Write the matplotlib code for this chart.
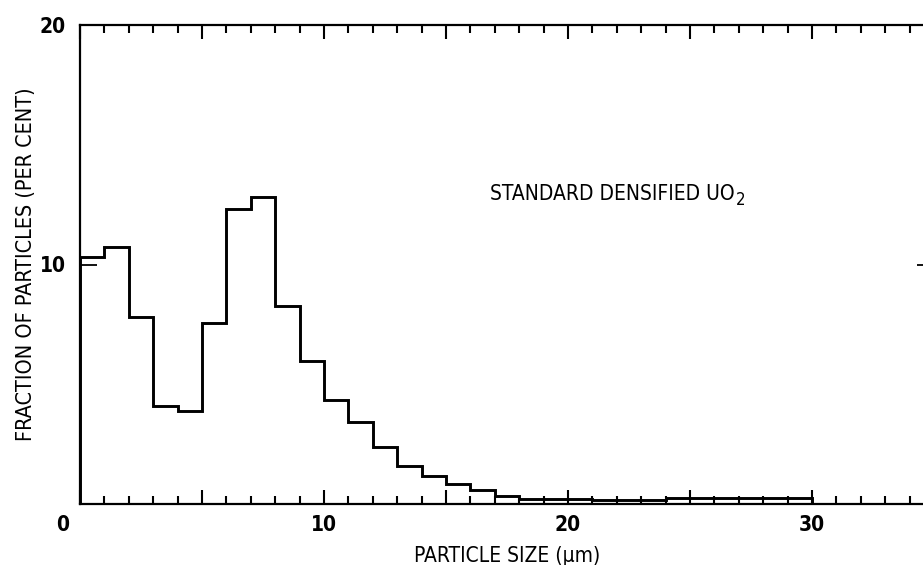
import matplotlib
matplotlib.use("Agg")
import matplotlib.pyplot as plt
import numpy as np
from matplotlib.ticker import FixedLocator, MultipleLocator, FuncFormatter
from matplotlib.transforms import ScaledTranslation

# ---- data ----
bin_edges = list(range(0, 31))
fractions = [10.3, 10.75, 7.8, 4.1, 3.9, 7.55, 12.3, 12.8, 8.25, 5.95,
             4.33, 3.41, 2.4, 1.6, 1.18, 0.82, 0.58, 0.35,
             0.2, 0.2, 0.2, 0.18, 0.18, 0.18, 0.25, 0.25, 0.25, 0.27, 0.27, 0.27]
x_tick_labels = [0, 10, 20, 30]
y_tick_labels = [10, 20]
annotation = "STANDARD DENSIFIED UO"
annotation_sub = "2"
xlabel = "PARTICLE SIZE (\u03bcm)"
ylabel = "FRACTION OF PARTICLES (PER CENT)"

plt.rcParams['font.family'] = ['DejaVu Sans']
plt.rcParams['font.stretch'] = 'condensed'

fig = plt.figure(figsize=(9.23, 5.65), dpi=100)
W, H = 923, 565
left, right, top, bottom = 80, 934, 25, 504
ax = fig.add_axes([left / W, (H - bottom) / H, (right - left) / W, (bottom - top) / H])

ax.stairs(fractions, bin_edges, color='black', linewidth=2.1)

ax.set_xlim(0, 35)
ax.set_ylim(0, 20)

for s in ax.spines.values():
    s.set_linewidth(1.6)

ax.xaxis.set_major_locator(FixedLocator(np.arange(0, 36, 5)))
ax.xaxis.set_minor_locator(MultipleLocator(1))
ax.xaxis.set_major_formatter(FuncFormatter(lambda v, p: f"{int(round(v))}" if int(round(v)) in x_tick_labels else ""))
ax.yaxis.set_major_locator(FixedLocator(y_tick_labels))
ax.yaxis.set_major_formatter(FuncFormatter(lambda v, p: f"{int(round(v))}"))

ax.tick_params(axis='x', which='major', direction='in', top=True, bottom=True,
               length=10, width=1.5, labelsize=15, pad=8)
ax.tick_params(axis='x', which='minor', direction='in', top=True, bottom=True,
               length=6, width=1.5)
ax.tick_params(axis='y', which='major', direction='in', left=True, right=True,
               length=12, width=1.3, labelsize=15, pad=10)
for lab in ax.get_xticklabels() + ax.get_yticklabels():
    lab.set_fontweight('bold')
    lab.set_fontstretch('condensed')

fig.canvas.draw()
for tick in ax.xaxis.get_major_ticks():
    if abs(tick.get_loc()) < 1e-9:
        lab = tick.label1
        lab.set_transform(lab.get_transform() + ScaledTranslation(-17.5 / 100, 0, fig.dpi_scale_trans))

ax.set_xlabel(xlabel, fontsize=15, labelpad=8, fontstretch='condensed')
ax.set_ylabel(ylabel, fontsize=15.5, labelpad=3, fontstretch='condensed')

t = ax.text(16.8, 12.7, annotation, fontsize=15, ha='left', va='baseline', fontstretch='condensed')
fig.canvas.draw()
bb = t.get_window_extent()
xr, _ = ax.transData.inverted().transform((bb.x1 + 1, 0))
ax.text(xr, 12.7, annotation_sub, fontsize=12, ha='left', va='baseline', fontstretch='condensed',
        transform=ax.transData + ScaledTranslation(0, -5 / 100, fig.dpi_scale_trans))

fig.savefig("out.png", dpi=100)
